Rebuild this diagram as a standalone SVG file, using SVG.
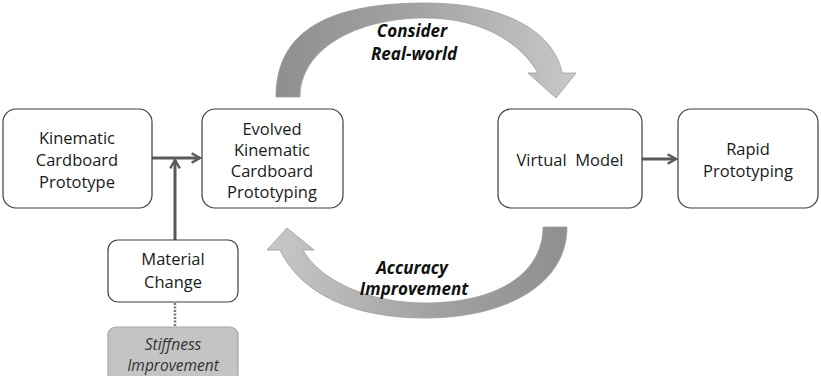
<svg xmlns="http://www.w3.org/2000/svg" width="821" height="376" viewBox="0 0 821 376">
  <style>
    .box { fill: #ffffff; stroke: #3f3f3f; stroke-width: 1.2; }
    .note { fill: #c4c4c4; stroke: #a6a6a6; stroke-width: 1.2; }
    .lbl { font-family: "Open Sans", "Noto Sans", "DejaVu Sans", sans-serif; font-size: 16.5px; fill: #1a1a1a; text-anchor: middle; }
    .cyc { font-family: "Open Sans", "Noto Sans", "DejaVu Sans", sans-serif; font-size: 17px; font-weight: bold; font-style: italic; fill: #111111; text-anchor: middle; }
    .noteTxt { font-family: "Open Sans", "Noto Sans", "DejaVu Sans", sans-serif; font-size: 15.5px; font-style: italic; fill: #333333; text-anchor: middle; }
    .conn { fill: none; stroke: #5a5a5a; stroke-width: 3; }
    .dot { fill: none; stroke: #777777; stroke-width: 2.5; stroke-dasharray: 2 1.5; }
    .bend { stroke: #9c9c9c; stroke-width: 0.8; }
  </style>
  <defs>
    <marker id="chev" viewBox="0 0 10 10" refX="8" refY="5" markerWidth="4" markerHeight="4" orient="auto" markerUnits="strokeWidth">
      <path d="M1,1 L8,5 L1,9" fill="none" stroke="#5a5a5a" stroke-width="2"/>
    </marker>
    <linearGradient id="gTop" gradientUnits="userSpaceOnUse" x1="276" y1="0" x2="576" y2="0">
      <stop offset="0" stop-color="#8f8f8f"/>
      <stop offset="0.45" stop-color="#a2a2a2"/>
      <stop offset="1" stop-color="#c8c8c8"/>
    </linearGradient>
    <linearGradient id="gBot" gradientUnits="userSpaceOnUse" x1="567" y1="0" x2="267" y2="0">
      <stop offset="0" stop-color="#8f8f8f"/>
      <stop offset="0.45" stop-color="#a2a2a2"/>
      <stop offset="1" stop-color="#c8c8c8"/>
    </linearGradient>
  </defs>

  <!-- cycle arrows -->
  <g id="cycle">
    <path class="bend" fill="url(#gTop)" d="M276,97 C276,30 330,3 425,3 C510,3 555,35 562,73 L576,73 L556,98 L528,73 L538,73 C522,45 485,18 425,18 C355,18 300,50 300,97 Z"/>
    <path class="bend" fill="url(#gBot)" d="M567,227 C567,285 505,318 425,318 C350,318 300,292 280,250 L267,250 L287,228 L314,250 L303,250 C318,278 365,303 425,303 C495,303 543,275 543,227 Z"/>
    <text class="cyc" x="412" y="37">Consider</text>
    <text class="cyc" x="414" y="60">Real-world</text>
    <text class="cyc" x="412" y="274">Accuracy</text>
    <text class="cyc" x="414" y="295">Improvement</text>
  </g>

  <!-- connectors -->
  <g id="connectors">
    <line class="conn" x1="152" y1="158" x2="200" y2="158" marker-end="url(#chev)"/>
    <line class="conn" x1="175" y1="240" x2="175" y2="160" marker-end="url(#chev)"/>
    <line class="conn" x1="642" y1="159" x2="676" y2="159" marker-end="url(#chev)"/>
    <line class="dot" x1="175" y1="303" x2="175" y2="327"/>
  </g>

  <g id="kinematic-cardboard-prototype">
    <rect class="box" x="3" y="109" width="149" height="99" rx="13"/>
    <text class="lbl" x="77" y="144">Kinematic</text>
    <text class="lbl" x="77" y="166">Cardboard</text>
    <text class="lbl" x="77" y="188">Prototype</text>
  </g>

  <g id="evolved-prototyping">
    <rect class="box" x="202" y="109" width="141" height="99" rx="13"/>
    <text class="lbl" x="272" y="135">Evolved</text>
    <text class="lbl" x="272" y="156">Kinematic</text>
    <text class="lbl" x="272" y="177">Cardboard</text>
    <text class="lbl" x="272" y="198">Prototyping</text>
  </g>

  <g id="virtual-model">
    <rect class="box" x="498" y="109" width="144" height="99" rx="13"/>
    <text class="lbl" x="570" y="166" xml:space="preserve">Virtual  Model</text>
  </g>

  <g id="rapid-prototyping">
    <rect class="box" x="678" y="109" width="140" height="99" rx="13"/>
    <text class="lbl" x="748" y="155">Rapid</text>
    <text class="lbl" x="748" y="177">Prototyping</text>
  </g>

  <g id="material-change">
    <rect class="box" x="108" y="240" width="130" height="62" rx="10"/>
    <text class="lbl" x="173" y="265">Material</text>
    <text class="lbl" x="173" y="288">Change</text>
  </g>

  <g id="stiffness-improvement">
    <rect class="note" x="108" y="327" width="130" height="56" rx="8"/>
    <text class="noteTxt" x="173" y="350">Stiffness</text>
    <text class="noteTxt" x="173" y="371">Improvement</text>
  </g>
</svg>
